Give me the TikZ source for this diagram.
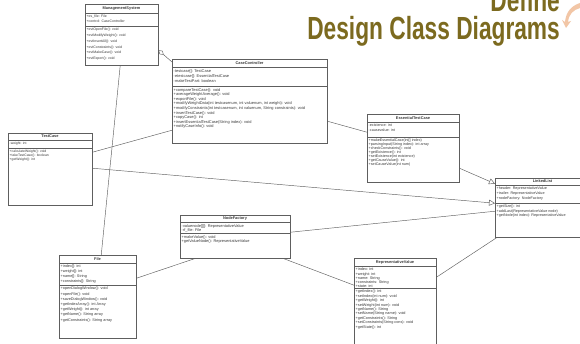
\documentclass[tikz,border=0pt]{standalone}
\usepackage{fontspec}
\setmainfont{Liberation Sans}
\usetikzlibrary{arrows.meta,calc}

\definecolor{umlline}{HTML}{5E5E5E}
\definecolor{umltext}{HTML}{3A3A3A}
\definecolor{headline}{HTML}{7C6A1F}
\definecolor{peach}{HTML}{F2C6A6}

\tikzset{
  classframe/.style={draw=umlline, line width=0.45pt, fill=white, inner sep=0pt},
  member/.style={anchor=north west, inner sep=0pt, align=left, text=umltext},
  classname/.style={inner sep=0pt, text=umltext, font=\fontsize{3.9}{4.5}\selectfont\bfseries},
  link/.style={draw=umlline, line width=0.45pt},
  generalize/.style={link, -{Triangle[open, length=6pt, width=6pt]}},
  aggregate/.style={link, {Diamond[open, length=7pt, width=4.5pt]}-},
  headtext/.style={anchor=base east, inner sep=0pt, text=headline, xscale=0.71,
                   font=\fontsize{32}{32}\selectfont\bfseries},
}

% class box: name, x1, y1, x2, y2, y of name rule, y of attribute rule, class name
\newcommand\umlclass[8]{%
  \node[classframe, anchor=north west,
        minimum width={#4pt-#2pt}, minimum height={#5pt-#3pt}] (#1) at (#2,#3) {};
  \draw[umlline, line width=0.4pt] (#2,#6) -- (#4,#6) (#2,#7) -- (#4,#7);
  \node[classname] (#1-name) at ({(#2+#4)/2},{(#3+#6)/2}) {#8};
}
\newcommand\memfont[2]{\fontsize{#1}{#2}\selectfont}

\begin{document}
\begin{tikzpicture}[x=1pt, y=-1pt]
  \useasboundingbox (0,0) rectangle (580,344);
  \clip (0,0) rectangle (580,344);
  \fill[white] (0,0) rectangle (580,344);

  % heading
  \node[headtext] (define) at (560,12) {Define};
  \node[headtext] (heading) at (560,40) {Design Class Diagrams};
  \fill[peach] (580,3) .. controls (571,6) and (566,12) .. (565,22)
       -- (562,20) -- (566,28) -- (571,21) -- (568,22)
       .. controls (569,14) and (573,10) .. (580,8) -- cycle;

  % ManagementSystem
  \umlclass{ms}{85}{4}{158}{65}{13}{26}{ManagementSystem}
  \node[member, font=\memfont{3.5}{5}] (ms-attr) at (86.5,15)
    {+es\_file: File\\+control: CaseController};
  \node[member, font=\memfont{3.5}{5.8}] (ms-op) at (86.5,28)
    {+evtOpenFile(): void\\+evtModifyWeight(): void\\+evtInsertAll(): void\\
     +evtConstraints(): void\\+evtMakeCase(): void\\+evtExport(): void};

  % CaseController
  \umlclass{cc}{172}{59}{327}{143}{67}{86}{CaseController}
  \node[member, font=\memfont{3.95}{5.2}] (cc-attr) at (173.5,69)
    {-testcase[]: TestCase\\-etestcase[]: EssentialTestCase\\-makeTestPart: boolean};
  \node[member, font=\memfont{3.95}{4.6}] (cc-op) at (173.5,88)
    {+compareTestCase(): void\\+averageWeightAverage(): void\\+exportFile(): void\\
     +modifyWeightData(int testcasenum, int valuenum, int weight): void\\
     +modifyConstraints(int testcasenum, int valuenum, String constraints): void\\
     +insertTestCase(): void\\+copyCase(): int\\
     +insertEssentialTestCase(String index): void\\+notifyCaseInfo(): void};

  % EssentialTestCase
  \umlclass{etc}{367}{114}{459}{182}{122}{137}{EssentialTestCase}
  \node[member, font=\memfont{3.7}{5}] (etc-attr) at (368.5,124)
    {-existence: int\\-causevalue: int};
  \node[member, font=\memfont{3.7}{4}] (etc-op) at (368.5,139)
    {+makeEssentialCase(int[] index)\\+parsingInput(String index): int array\\
     +checkConstraints(): void\\+getExistence(): int\\+setExistence(int existence)\\
     +getCauseValue(): int\\+setCauseValue(int num)};

  % TestCase
  \umlclass{tc}{8}{133}{92}{205}{140}{148}{TestCase}
  \node[member, font=\memfont{3.4}{4}] (tc-attr) at (9.5,142) {-weight: int};
  \node[member, font=\memfont{3.4}{3.9}] (tc-op) at (9.5,150)
    {+calculateWeight(): void\\+takeTestCase(): boolean\\+getWeight(): int};

  % NodeFactory
  \umlclass{nf}{180}{215}{290}{258}{222}{233}{NodeFactory}
  \node[member, font=\memfont{3.9}{4.2}] (nf-attr) at (181.5,224)
    {-valuenode[][]: RepresentativeValue\\-rf\_file: File};
  \node[member, font=\memfont{3.9}{4.2}] (nf-op) at (181.5,235)
    {+makeValue(): void\\+getValueNode(): RepresentativeValue};

  % File
  \umlclass{file}{59}{255}{136}{338}{263}{285}{File}
  \node[member, font=\memfont{3.8}{4.8}] (file-attr) at (60.5,265)
    {+index[]: int\\+weight[]: int\\+name[]: String\\+constraints[]: String};
  \node[member, font=\memfont{3.8}{5.2}] (file-op) at (60.5,287)
    {+openDialogWindow(): void\\+openFile(): void\\+saveDialogWindow(): void\\
     +getIndexArray(): int Array\\+getWeight(): int array\\
     +getName(): String array\\+getConstraints(): String array};

  % RepresentativeValue
  \umlclass{rv}{354}{258}{436}{352}{266}{288}{RepresentativeValue}
  \node[member, font=\memfont{3.8}{4.1}] (rv-attr) at (355.5,268)
    {+index: int\\+weight: int\\+name: String\\+constraints: String\\+state: int};
  \node[member, font=\memfont{3.8}{4.4}] (rv-op) at (355.5,290)
    {+getIndex(): int\\+setIndex(int num): void\\+getWeight(): int\\
     +setWeight(int num): void\\+getName(): String\\+setName(String name): void\\
     +getConstraints(): String\\+setConstraints(String cons): void\\+getState(): int};

  % LinkedList
  \umlclass{ll}{495}{178}{590}{237}{185}{203}{LinkedList}
  \node[member, font=\memfont{3.7}{5}] (ll-attr) at (496.5,187)
    {+header: RepresentativeValue\\+trailer: RepresentativeValue\\+nodeFactory: NodeFactory};
  \node[member, font=\memfont{3.7}{4.5}] (ll-op) at (496.5,205)
    {+getSize(): int\\+addLast(RepresentativeValue node)\\+getNode(int index): RepresentativeValue};

  % associations
  \draw[aggregate] ([yshift=-15.5pt]ms.east) -- ([yshift=-3pt]cc.north west);
  \draw[link] ([xshift=-1.5pt]ms.south) -- ([xshift=3.5pt]file.north);
  \draw[link] ([yshift=17pt]tc.east) -- ([yshift=-29pt]cc.west);
  \draw[link] ([yshift=-20pt]cc.east) -- ([yshift=16pt]etc.west);
  \draw[link] ([yshift=4.5pt]nf.east) -- ([yshift=-3.5pt]ll.west);
  \draw[link] ([yshift=18.5pt]file.east) -- ([xshift=-40pt]nf.south);
  \draw[link] ([xshift=48pt]nf.south) -- ([yshift=20pt]rv.west);
  \draw[link] ([yshift=28pt]rv.east) -- ([xshift=2pt]ll.south west);

  % generalizations
  \draw[generalize] ([yshift=1pt]tc.east) -- ([yshift=4.5pt]ll.west);
  \draw[generalize] ([yshift=-20pt]etc.east) -- ([yshift=24pt]ll.west);
\end{tikzpicture}
\end{document}
